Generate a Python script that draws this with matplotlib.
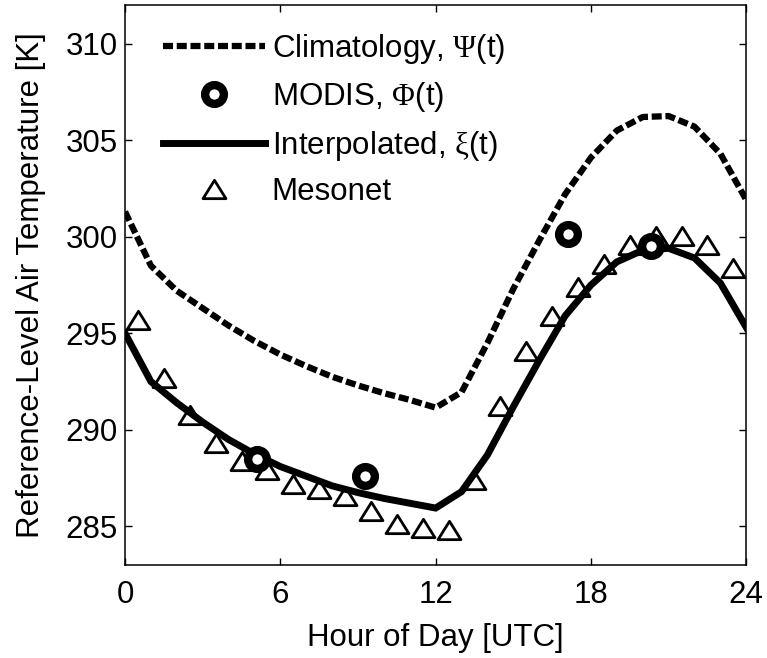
import numpy as np
import matplotlib
matplotlib.use("Agg")
import matplotlib.pyplot as plt
from matplotlib.path import Path

plt.rcParams['font.family'] = ['Liberation Sans', 'DejaVu Sans']
plt.rcParams['mathtext.fontset'] = 'custom'
plt.rcParams['mathtext.rm'] = 'Liberation Serif'
plt.rcParams['mathtext.it'] = 'Liberation Serif'

# Data
hours = list(range(0, 25))
climatology = [301.3, 298.5, 297.2, 296.3, 295.4, 294.6, 293.9, 293.3, 292.75,
               292.3, 291.9, 291.55, 291.15, 291.95, 294.5, 297.3, 299.8, 302.2,
               304.1, 305.5, 306.2, 306.25, 305.7, 304.3, 301.9]
interpolated = [295.0, 292.5, 291.4, 290.4, 289.5, 288.75, 288.1, 287.6, 287.1,
                286.75, 286.45, 286.2, 285.95, 286.8, 288.7, 291.2, 293.6, 295.9,
                297.5, 298.7, 299.3, 299.4, 298.9, 297.6, 295.3]
modis_hours = [5.08, 9.27, 17.12, 20.33]
modis_temps = [288.5, 287.6, 300.15, 299.5]
mesonet_hours = [h + 0.5 for h in range(24)]
mesonet_temps = [295.7, 292.7, 290.75, 289.3, 288.4, 287.9, 287.2, 286.95, 286.6,
                 285.8, 285.15, 284.9, 284.8, 287.4, 291.25, 294.1, 295.9, 297.4,
                 298.6, 299.55, 300.05, 300.05, 299.55, 298.4]
xticks = [0, 6, 12, 18, 24]
yticks = [285, 290, 295, 300, 305, 310]

FS = 22.5

fig = plt.figure(figsize=(7.67, 6.58), dpi=100)
ax = fig.add_axes([0.163, 0.1413, 0.810, 0.8511])

tri = Path([(0, 0.8), (-1, -0.8), (1, -0.8), (0, 0.8)],
           [Path.MOVETO, Path.LINETO, Path.LINETO, Path.CLOSEPOLY])

ax.plot(hours, climatology, color='black', lw=4.5, dashes=(1.6, 0.6),
        dash_capstyle='butt', label=r'Climatology, $\Psi$(t)')
ax.plot(modis_hours, modis_temps, linestyle='none', marker='o', ms=13.5,
        mfc='white', mec='black', mew=6, label=r'MODIS, $\Phi$(t)', zorder=4)
ax.plot(hours, interpolated, color='black', lw=5, solid_joinstyle='miter',
        label=r'Interpolated, $\xi$(t)', zorder=3)
ax.plot(mesonet_hours, mesonet_temps, linestyle='none', marker=tri, ms=16.5,
        mfc='white', mec='black', mew=2, label='Mesonet', zorder=2)

ax.set_xlim(0, 24)
ax.set_ylim(283, 312)
ax.set_xticks(xticks)
ax.set_yticks(yticks)
ax.tick_params(direction='in', length=5, width=1, top=True, right=True,
               labelsize=FS)
ax.tick_params(axis='x', pad=11)
ax.tick_params(axis='y', pad=5)
for s in ax.spines.values():
    s.set_linewidth(1.1)

ax.set_xlabel('Hour of Day [UTC]', fontsize=FS, labelpad=9)
ax.set_ylabel('Reference-Level Air Temperature [K]', fontsize=FS, labelpad=14)

leg = ax.legend(loc='upper left', frameon=False, fontsize=FS, handlelength=3.26,
                handletextpad=0.22, labelspacing=0.46, borderaxespad=0,
                borderpad=0, bbox_to_anchor=(0.061, 0.952))

fig.savefig('out.png', dpi=100)
